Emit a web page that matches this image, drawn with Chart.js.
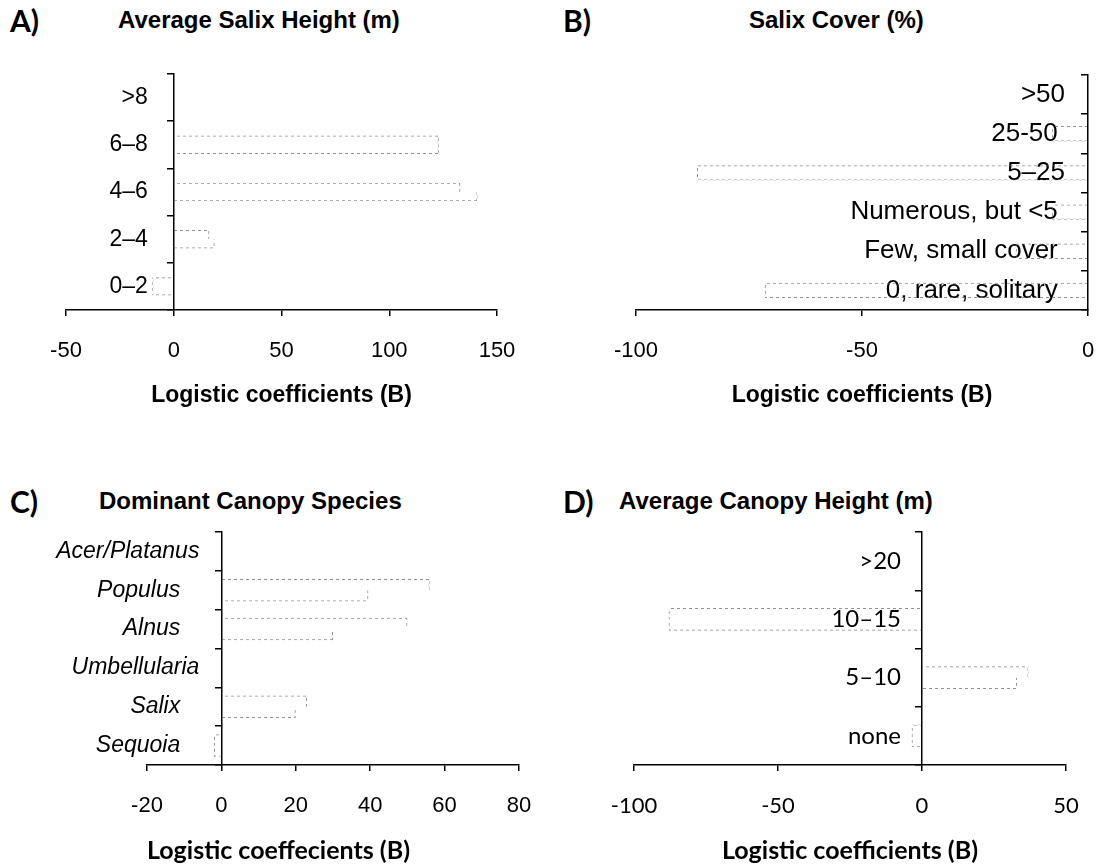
<!DOCTYPE html>
<html>
<head>
<meta charset="utf-8">
<script src="https://cdn.jsdelivr.net/npm/chart.js@4.4.0/dist/chart.umd.min.js"></script>
<style>
  body { margin: 0; background: #fff; }
  #page { position: relative; width: 1102px; height: 868px; overflow: hidden; background: #fff; }
  .box { position: absolute; width: 551px; height: 434px; }
  .letter { position: absolute; font-family: Lato, "Liberation Sans", sans-serif; font-weight: bold; font-size: 30px; color: #000; line-height: 1; }
  .title { position: absolute; font-family: "Liberation Sans", Arial, sans-serif; font-weight: bold; font-size: 24px; color: #000; line-height: 1; white-space: nowrap; }
</style>
</head>
<body>
<div id="page">
  <div class="letter" style="left:10px; top:5px;">A)</div>
  <div class="title" style="left:118px; top:8px;">Average Salix Height (m)</div>
  <div class="letter" style="left:563px; top:5px;">B)</div>
  <div class="title" style="left:749px; top:8px;">Salix Cover (%)</div>
  <div class="letter" style="left:10px; top:486px;">C)</div>
  <div class="title" style="left:99px; top:489px;">Dominant Canopy Species</div>
  <div class="letter" style="left:563px; top:486px;">D)</div>
  <div class="title" style="left:619px; top:489px;">Average Canopy Height (m)</div>

  <div class="box" style="left:0; top:0;"><canvas id="chartA"></canvas></div>
  <div class="box" style="left:551px; top:0;"><canvas id="chartB"></canvas></div>
  <div class="box" style="left:0; top:434px;"><canvas id="chartC"></canvas></div>
  <div class="box" style="left:551px; top:434px;"><canvas id="chartD"></canvas></div>
</div>

<script>
// Categorias (de cima para baixo) e coeficientes.
// Cada caixa tem aresta superior e inferior de comprimentos diferentes,
// por isso há duas séries: "upper" e "lower".
const salixHeightLabels = ['>8', '6\u20138', '4\u20136', '2\u20134', '0\u20132'];
const salixHeightUpper = [0, 123, 133, 16.5, -10];
const salixHeightLower = [0, 123, 141, 19, -10];

const salixCoverLabels = ['>50', '25-50 ', '5\u201325', 'Numerous, but <5 ', 'Few, small cover ', '0, rare, solitary '];
const salixCoverUpper = [0, -8, -86.5, -8, -16, -71.5];
const salixCoverLower = [0, -8, -86.5, -8, -16, -71.5];

// espaços no fim dos nomes reproduzem o recuo desigual dos rótulos originais
const canopySpeciesLabels = ['Acer/Platanus', 'Populus   ', 'Alnus   ', 'Umbellularia', 'Salix   ', 'Sequoia   '];
const canopySpeciesUpper = [0, 56, 50, 0, 23, -2];
const canopySpeciesLower = [0, 39.5, 30, 0, 20, -2];

const canopyHeightLabels = ['>20', '10\u201315', '5\u201310', 'none'];
const canopyHeightUpper = [0, -88, 37, -3.6];
const canopyHeightLower = [0, -88, 33, -3.6];

// Eixos x: limites e passo das marcas
const xRangeA = { min: -50, max: 150, step: 50 };
const xRangeB = { min: -100, max: 0, step: 50 };
const xRangeC = { min: -20, max: 80, step: 20 };
const xRangeD = { min: -100, max: 50, step: 50 };

const ARIAL = '"Liberation Sans", Arial, sans-serif';
const CALIBRI = 'Lato, "Liberation Sans", sans-serif';

// Padrão pontilhado cinza para imitar as bordas apagadas do scan
function makeDotPattern() {
    const c = document.createElement('canvas');
    c.width = 6;
    c.height = 6;
    const g = c.getContext('2d');
    g.fillStyle = 'rgba(110,110,110,0.75)';
    g.fillRect(0, 0, 3, 3);
    g.fillRect(3, 3, 3, 3);
    return g.createPattern(c, 'repeat');
}
const dotPattern = makeDotPattern();

// Afasta os rótulos dos eixos sem mexer no layout:
// - y com position {x: 0} fica colado no eixo, então empurramos para a esquerda
// - x usa ticks.padding = 0 (senão o Chart.js reserva margem lateral extra) e descemos aqui
const labelShift = {
    id: 'labelShift',
    beforeDraw(chart, args, opts) {
        chart.scales.y.getLabelItems().forEach(item => {
            if (!item._shifted) {
                item.options.translation[0] -= opts.yGap;
                item._shifted = true;
            }
        });
        chart.scales.x.getLabelItems().forEach(item => {
            if (!item._shifted) {
                item.options.translation[1] += opts.xDrop;
                item._shifted = true;
            }
        });
    }
};

// Monta um gráfico de barras horizontais com o eixo y cruzando em x = 0
function buildPanel(canvasId, cfg) {
    const ctx = document.getElementById(canvasId).getContext('2d');
    return new Chart(ctx, {
        type: 'bar',
        data: {
            labels: cfg.labels,
            datasets: [
                {
                    data: cfg.upper,
                    backgroundColor: 'rgba(0,0,0,0)',
                    borderColor: dotPattern,
                    borderWidth: { top: 1, right: 1, bottom: 0, left: 1 }
                },
                {
                    data: cfg.lower,
                    backgroundColor: 'rgba(0,0,0,0)',
                    borderColor: dotPattern,
                    borderWidth: { top: 0, right: 1, bottom: 1, left: 1 }
                }
            ]
        },
        plugins: [labelShift],
        options: {
            indexAxis: 'y',
            responsive: true,
            maintainAspectRatio: false,
            animation: false,
            categoryPercentage: cfg.catPct,
            barPercentage: 1,
            layout: { padding: cfg.padding },
            plugins: {
                legend: { display: false },
                tooltip: { enabled: false },
                labelShift: { yGap: cfg.yGap, xDrop: 22 }
            },
            scales: {
                x: {
                    type: 'linear',
                    min: cfg.range.min,
                    max: cfg.range.max,
                    grid: { display: true, drawOnChartArea: false, drawTicks: true, tickLength: 6, color: '#000', lineWidth: 1.5 },
                    border: { display: true, color: '#000', width: 1.5 },
                    ticks: {
                        stepSize: cfg.range.step,
                        color: '#000',
                        padding: 0,
                        font: { family: cfg.xTickFamily, size: 22 }
                    },
                    title: {
                        display: true,
                        text: cfg.xTitle,
                        align: cfg.xTitleAlign || 'center',
                        color: '#000',
                        padding: { top: 0, bottom: cfg.xTitlePad },
                        font: { family: cfg.xTitleFamily, size: cfg.xTitleSize, weight: 'bold' }
                    },
                    afterFit: (scale) => { scale.height = cfg.xAxisHeight; }
                },
                y: {
                    position: { x: 0 },
                    grid: { display: true, drawOnChartArea: false, drawTicks: true, tickLength: 6, color: '#000', lineWidth: 1.5, offset: true },
                    border: { display: true, color: '#000', width: 1.5 },
                    ticks: {
                        color: '#000',
                        autoSkip: false,
                        font: { family: cfg.yTickFamily, size: cfg.yTickSize, style: cfg.yTickStyle || 'normal' }
                    }
                }
            }
        }
    });
}

buildPanel('chartA', {
    labels: salixHeightLabels, upper: salixHeightUpper, lower: salixHeightLower,
    range: xRangeA, catPct: 0.39,
    padding: { left: 66, right: 54, top: 74, bottom: 0 },
    xAxisHeight: 124, xTitlePad: 25,
    xTickFamily: ARIAL, xTitleFamily: ARIAL, xTitleSize: 23, xTitle: 'Logistic coefficients (B)',
    yTickFamily: ARIAL, yTickSize: 23, yGap: 26
});

buildPanel('chartB', {
    labels: salixCoverLabels, upper: salixCoverUpper, lower: salixCoverLower,
    range: xRangeB, catPct: 0.39,
    padding: { left: 85, right: 14, top: 75, bottom: 0 },
    xAxisHeight: 124, xTitlePad: 25,
    xTickFamily: ARIAL, xTitleFamily: ARIAL, xTitleSize: 23, xTitle: 'Logistic coefficients (B)',
    yTickFamily: ARIAL, yTickSize: 26, yGap: 23
});

buildPanel('chartC', {
    labels: canopySpeciesLabels, upper: canopySpeciesUpper, lower: canopySpeciesLower,
    range: xRangeC, catPct: 0.58,
    padding: { left: 147, right: 32, top: 98, bottom: 0 },
    xAxisHeight: 103, xTitlePad: 2,
    xTickFamily: ARIAL, xTitleFamily: CALIBRI, xTitleSize: 25, xTitleAlign: 'start', xTitle: 'Logistic coeffecients (B)',
    yTickFamily: ARIAL, yTickSize: 23, yTickStyle: 'italic', yGap: 22
});

buildPanel('chartD', {
    labels: canopyHeightLabels, upper: canopyHeightUpper, lower: canopyHeightLower,
    range: xRangeD, catPct: 0.39,
    padding: { left: 83, right: 36, top: 98, bottom: 0 },
    xAxisHeight: 103, xTitlePad: 2,
    xTickFamily: CALIBRI, xTitleFamily: CALIBRI, xTitleSize: 25, xTitle: 'Logistic coefficients (B)',
    yTickFamily: CALIBRI, yTickSize: 24, yGap: 21
});
</script>
</body>
</html>
